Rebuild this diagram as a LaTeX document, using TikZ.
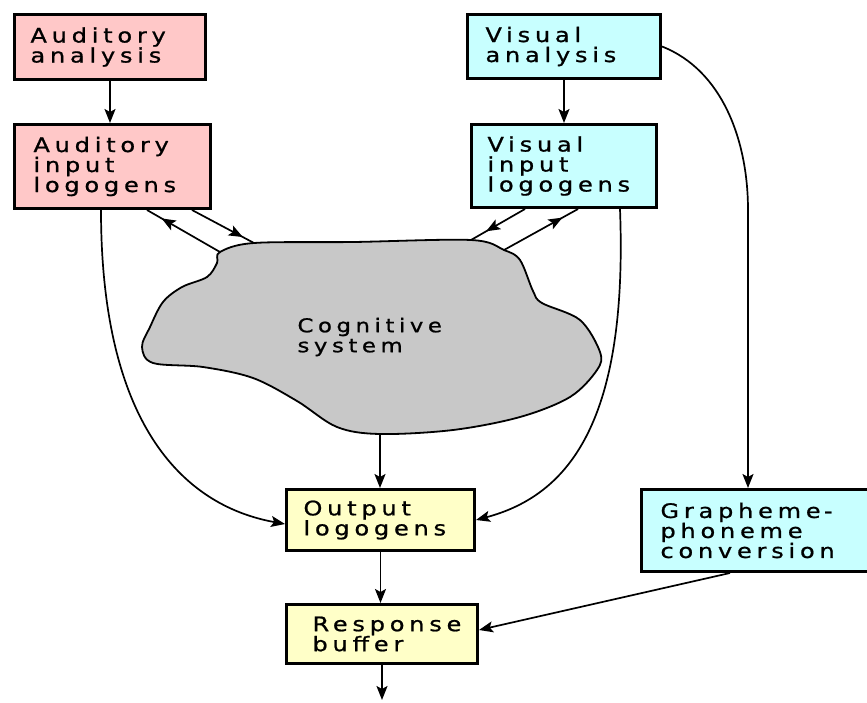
\documentclass[tikz,border=0pt]{standalone}
\usepackage{fontspec}
\newfontfamily\lbl[LetterSpace=24, FakeStretch=1.2, FakeBold=1]{DejaVu Sans}
\usetikzlibrary{arrows.meta,calc,decorations.markings}
\definecolor{pinkf}{RGB}{255,200,200}
\definecolor{cyanf}{RGB}{200,255,255}
\definecolor{yelf}{RGB}{255,255,200}
\definecolor{greyf}{RGB}{200,200,200}
\tikzset{
  box/.style={draw=black, line width=3pt, anchor=north west, inner ysep=0pt,
    align=left, font=\lbl\fontsize{20}{20}\selectfont},
  conn/.style={line width=1.7pt, -{Stealth[length=14pt,width=11pt,inset=3pt]}},
  arrowat/.style={line width=1.7pt, postaction={decorate},
    decoration={markings, mark=at position #1 with {\arrow{Stealth[length=14pt,width=11pt,inset=3pt]}}}},
}
\begin{document}
\begin{tikzpicture}[x=1pt,y=-1pt]
\useasboundingbox (0,0) rectangle (867,702);
% boxes
\node[box, fill=pinkf, minimum width=191pt, minimum height=65pt, text width=159pt, inner xsep=16pt] (aa) at (13,13) {Auditory\\analysis};
\node[box, fill=pinkf, minimum width=196pt, minimum height=84pt, text width=158pt, inner xsep=19pt] (ai) at (13,123) {Auditory\\input\\logogens};
\node[box, fill=cyanf, minimum width=193pt, minimum height=64pt, text width=157pt, inner xsep=18pt] (va) at (466,13) {Visual\\analysis};
\node[box, fill=cyanf, minimum width=185pt, minimum height=83pt, text width=153pt, inner xsep=16pt] (vi) at (470,123) {Visual\\input\\logogens};
\node[box, fill=yelf, minimum width=188pt, minimum height=61pt, text width=154pt, inner xsep=17pt] (ol) at (285,488) {Output\\logogens};
\node[box, fill=yelf, minimum width=191pt, minimum height=59pt, text width=163pt, inner xsep=14pt] (rb) at (285,603) {\hspace*{12pt}Response\\\hspace*{12pt}buffer};
\node[box, fill=cyanf, minimum width=235pt, minimum height=82pt, text width=197pt, inner xsep=19pt] (gp) at (640,488) {Grapheme\,-\\phoneme\\conversion};
% cognitive system blob
\coordinate (c1) at (220,252);
\coordinate (c2) at (254,243);
\coordinate (c3) at (471,240);
\coordinate (c4) at (504,250);
\coordinate (cb) at (380,434);
\filldraw[fill=greyf, draw=black, line width=1.8pt]
  plot[smooth cycle, tension=0.55] coordinates {
    (c1) (c2) (353,242) (c3) (c4) (520,260) (533,291) (542,303) (580,320)
    (600,352) (597,370) (570,397) (520,417) (453,430) (cb) (337,427)
    (297,401) (253,378) (203,367) (153,363) (142,347) (150,327) (163,302)
    (182,287) (207,277) (217,263)};
\node[font=\lbl\fontsize{19}{20}\selectfont, align=left, anchor=west] (cog) at (294,337) {Cognitive\\system};
% vertical connectors
\draw[conn] (aa.south) -- (aa.south |- ai.north);
\draw[conn] (va.south) -- (va.south |- vi.north);
\draw[conn] (cb) -- (cb |- ol.north);
\draw[conn] (ol.south) -- (ol.south |- rb.north);
\coordinate (out) at (380.5,700);
\draw[conn] (rb.south) -- (rb.south |- out);
% logogens <-> cognitive system
\draw[arrowat=0.8] (c1) -- ($(ai.south west)+(134,0)$);
\draw[arrowat=0.82] ($(ai.south west)+(179,0)$) -- (c2);
\draw[arrowat=0.72] ($(vi.south west)+(55,0)$) -- (c3);
\draw[arrowat=0.79] (c4) -- ($(vi.south west)+(108,0)$);
% long curves
\draw[conn] ($(ai.south west)+(88,0)$) .. controls (101,420) and (180,505) .. ($(ol.west)+(0,4)$);
\draw[conn] ($(vi.south west)+(150,0)$) .. controls (628,420) and (570,495) .. (ol.east);
\draw[conn] (va.east) .. controls (722,70) and (748,140) .. (748,210) -- ($(gp.north west)+(108,0)$);
\draw[conn] ($(gp.south west)+(90,0)$) -- ($(rb.east)+(0,-4)$);
\end{tikzpicture}
\end{document}
